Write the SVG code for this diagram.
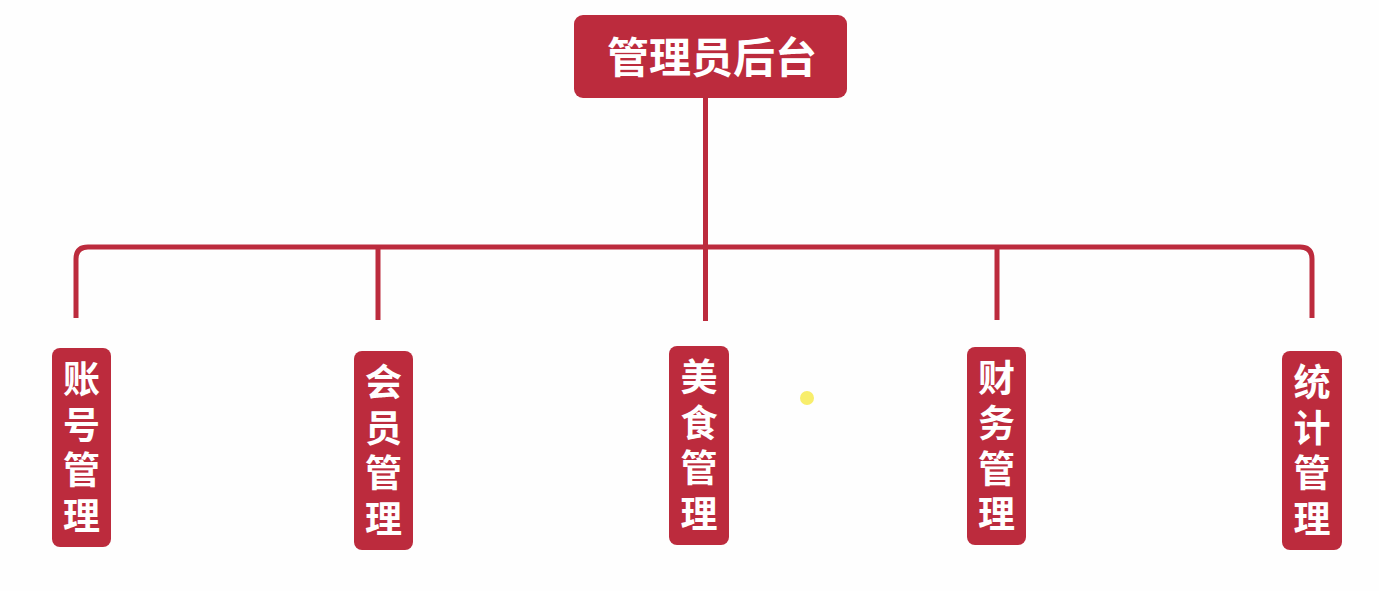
<svg xmlns="http://www.w3.org/2000/svg" width="1379" height="591" viewBox="0 0 1379 591">
<style>
.box{fill:#bc2b3d;}
.lbl{fill:#ffffff;font-family:"Noto Sans CJK SC","Noto Sans",sans-serif;font-weight:bold;text-anchor:middle;}
.sub{font-size:37px;}
.con{fill:none;stroke:#bc2b3d;stroke-width:5;stroke-linecap:butt;stroke-linejoin:round;}
</style>
<rect width="1379" height="591" fill="#fefefe"/>
<g id="connectors">
<path class="con" d="M705.5 98 V321"/>
<path class="con" d="M76 318 V259 Q76 247 88 247 H1300 Q1312 247 1312 259 V318"/>
<path class="con" d="M378 247 V320"/>
<path class="con" d="M997 247 V320"/>
</g>
<g id="root">
<rect class="box" x="574" y="15" width="273" height="83" rx="9"/>
<text class="lbl" x="712" y="73" font-size="42">管理员后台</text>
</g>
<g id="n1">
<rect class="box" x="52" y="348" width="59" height="199" rx="8"/>
<text class="lbl sub" x="81.5"><tspan x="81.5" y="393">账</tspan><tspan x="81.5" y="438.5">号</tspan><tspan x="81.5" y="484">管</tspan><tspan x="81.5" y="529.5">理</tspan></text>
</g>
<g id="n2">
<rect class="box" x="354" y="351" width="59" height="199" rx="8"/>
<text class="lbl sub" x="383.5"><tspan x="383.5" y="396">会</tspan><tspan x="383.5" y="441.5">员</tspan><tspan x="383.5" y="487">管</tspan><tspan x="383.5" y="532.5">理</tspan></text>
</g>
<g id="n3">
<rect class="box" x="669" y="346" width="60" height="199" rx="8"/>
<text class="lbl sub" x="699"><tspan x="699" y="391">美</tspan><tspan x="699" y="436.5">食</tspan><tspan x="699" y="482">管</tspan><tspan x="699" y="527.5">理</tspan></text>
</g>
<g id="n4">
<rect class="box" x="967" y="347" width="59" height="198" rx="8"/>
<text class="lbl sub" x="996.5"><tspan x="996.5" y="391.5">财</tspan><tspan x="996.5" y="437">务</tspan><tspan x="996.5" y="482.5">管</tspan><tspan x="996.5" y="528">理</tspan></text>
</g>
<g id="n5">
<rect class="box" x="1282" y="351" width="60" height="199" rx="8"/>
<text class="lbl sub" x="1312"><tspan x="1312" y="396">统</tspan><tspan x="1312" y="441.5">计</tspan><tspan x="1312" y="487">管</tspan><tspan x="1312" y="532.5">理</tspan></text>
</g>
<circle cx="807" cy="398" r="7" fill="#f8ee6c"/>
</svg>
